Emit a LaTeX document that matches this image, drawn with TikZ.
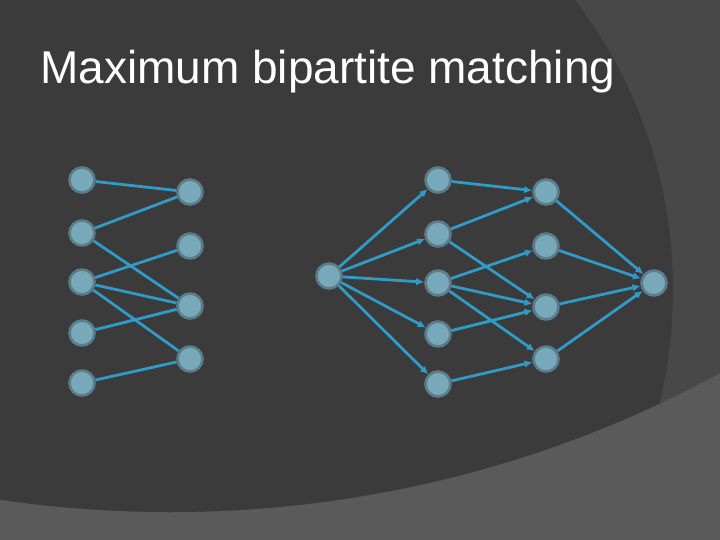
\documentclass[tikz,border=0pt]{standalone}
\usepackage{fontspec}
\setmainfont{Liberation Sans}
\usetikzlibrary{arrows.meta}
\definecolor{bgdark}{HTML}{3B3B3B}
\definecolor{bgright}{HTML}{484848}
\definecolor{bgbottom}{HTML}{5A5A5A}
\definecolor{nodefill}{HTML}{77A9BB}
\definecolor{nodeborder}{HTML}{5B7C88}
\definecolor{edgeblue}{HTML}{2F9BC6}
\tikzset{
  vtx/.style={circle, minimum size=25pt, inner sep=0pt, fill=nodefill, draw=nodeborder, line width=2.6pt},
  edge/.style={draw=edgeblue, line width=2.8pt},
  arc/.style={edge, -{Latex[length=8pt,width=7.5pt]}},
}
\begin{document}
\begin{tikzpicture}[x=1pt,y=-1pt]
\useasboundingbox (0,0) rectangle (720,540);
\clip (0,0) rectangle (720,540);
% background
\fill[bgbottom] (0,0) rectangle (720,540);
\begin{scope}
  \clip (170,-645.6) circle (1157.6);
  \fill[bgright] (0,0) rectangle (720,540);
  \fill[bgdark] (195,290) circle (478);
\end{scope}
% title
\node[anchor=base west, inner sep=0pt, text=white, font=\fontsize{46pt}{50pt}\selectfont] (title) at (40,84) {Maximum bipartite matching};
% left graph
\node[vtx] (L1) at (82,180) {};
\node[vtx] (L2) at (82,233) {};
\node[vtx] (L3) at (82,282) {};
\node[vtx] (L4) at (82,333) {};
\node[vtx] (L5) at (82,383) {};
\node[vtx] (R1) at (190,192) {};
\node[vtx] (R2) at (190,246) {};
\node[vtx] (R3) at (190,306) {};
\node[vtx] (R4) at (190,359) {};
\draw[edge] (L1) -- (R1);
\draw[edge] (L2) -- (R1);
\draw[edge] (L2) -- (R3);
\draw[edge] (L3) -- (R2);
\draw[edge] (L3) -- (R3);
\draw[edge] (L3) -- (R4);
\draw[edge] (L4) -- (R3);
\draw[edge] (L5) -- (R4);
% right network
\node[vtx] (s) at (329,276) {};
\node[vtx] (A1) at (438,180) {};
\node[vtx] (A2) at (438,234) {};
\node[vtx] (A3) at (438,283) {};
\node[vtx] (A4) at (438,334) {};
\node[vtx] (A5) at (438,384) {};
\node[vtx] (B1) at (546,192) {};
\node[vtx] (B2) at (546,246) {};
\node[vtx] (B3) at (546,307) {};
\node[vtx] (B4) at (546,359) {};
\node[vtx] (t) at (654,283) {};
\foreach \a in {A1,A2,A3,A4,A5} \draw[arc] (s) -- (\a);
\draw[arc] (A1) -- (B1);
\draw[arc] (A2) -- (B1);
\draw[arc] (A2) -- (B3);
\draw[arc] (A3) -- (B2);
\draw[arc] (A3) -- (B3);
\draw[arc] (A3) -- (B4);
\draw[arc] (A4) -- (B3);
\draw[arc] (A5) -- (B4);
\foreach \b in {B1,B2,B3,B4} \draw[arc] (\b) -- (t);
\end{tikzpicture}
\end{document}
